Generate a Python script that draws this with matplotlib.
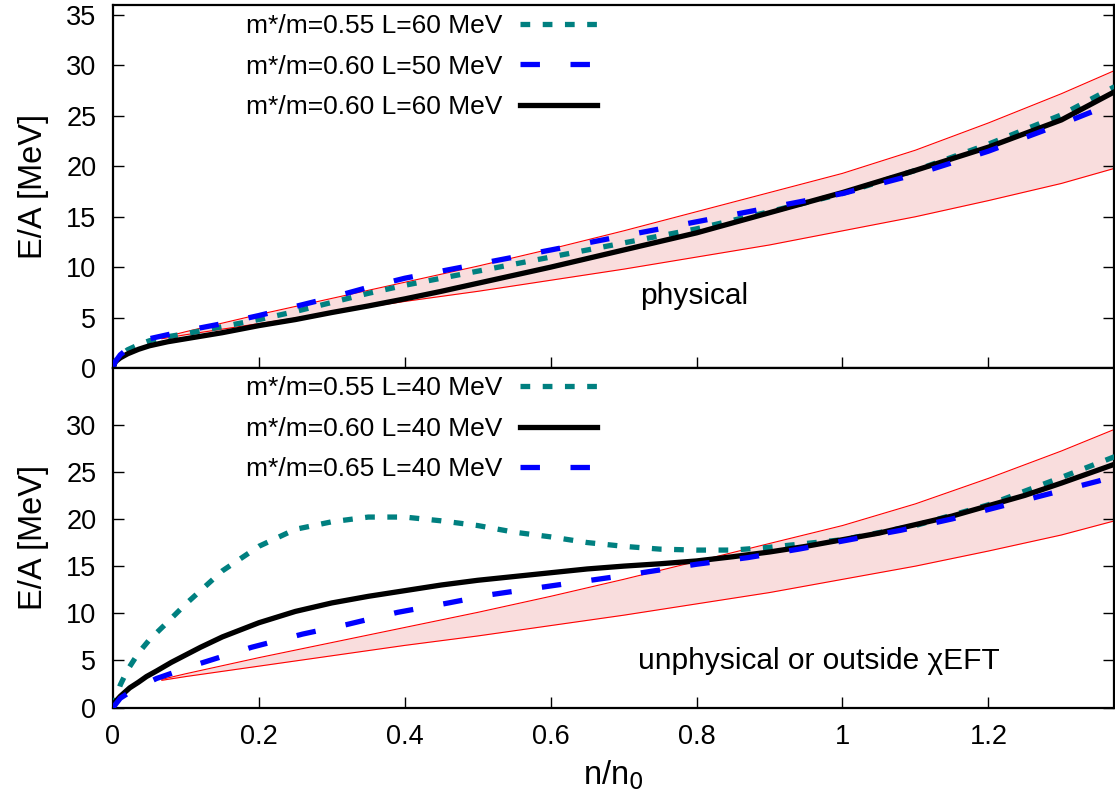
import matplotlib
matplotlib.use("Agg")
import matplotlib.pyplot as plt

plt.rcParams['font.family'] = ['Liberation Sans', 'DejaVu Sans']
plt.rcParams['lines.scale_dashes'] = False

# === DATA ===
# chiEFT band (same in both panels)
band_x = [0.067, 0.1, 0.2, 0.3, 0.4, 0.5, 0.6, 0.7, 0.8, 0.9, 1.0, 1.1, 1.2, 1.3, 1.373]
band_hi = [3.0, 3.6, 5.3, 6.9, 8.5, 10.1, 11.8, 13.6, 15.5, 17.4, 19.3, 21.6, 24.3, 27.2, 29.5]
band_lo = [2.9, 3.3, 4.4, 5.5, 6.6, 7.6, 8.7, 9.8, 11.0, 12.2, 13.6, 15.0, 16.6, 18.3, 19.8]

# top panel ("physical")
top_x = [0, 0.003, 0.01, 0.02, 0.035, 0.05, 0.075, 0.1, 0.15, 0.2, 0.25, 0.3, 0.35, 0.4, 0.45, 0.5,
         0.55, 0.6, 0.7, 0.8, 0.9, 1.0, 1.1, 1.2, 1.3, 1.373]
top_055_L60 = [0, 0.6, 1.2, 1.8, 2.3, 2.7, 3.1, 3.4, 4.1, 4.8, 5.6, 6.5, 7.4, 8.2, 8.9, 9.6,
               10.3, 11.0, 12.4, 13.8, 15.5, 17.3, 19.6, 22.2, 25.1, 27.9]
top_060_L50 = [0, 0.6, 1.3, 1.9, 2.5, 2.9, 3.3, 3.7, 4.4, 5.2, 6.1, 7.0, 8.0, 8.9, 9.6, 10.3,
               11.0, 11.7, 13.1, 14.5, 15.9, 17.3, 19.2, 21.5, 24.2, 26.3]
top_060_L60 = [0, 0.6, 1.0, 1.4, 1.85, 2.2, 2.6, 2.9, 3.5, 4.2, 4.8, 5.5, 6.15, 6.85, 7.6, 8.4,
               9.2, 10.0, 11.7, 13.4, 15.4, 17.4, 19.6, 21.9, 24.6, 27.4]

# bottom panel ("unphysical or outside chiEFT")
bot_x_055 = [0, 0.01, 0.02, 0.035, 0.05, 0.07, 0.1, 0.15, 0.2, 0.25, 0.3, 0.35, 0.4, 0.45, 0.5, 0.55,
             0.6, 0.65, 0.7, 0.75, 0.8, 0.85, 0.9, 0.95, 1.0, 1.1, 1.2, 1.3, 1.373]
bot_055_L40 = [0, 2.4, 4.0, 5.8, 7.2, 8.7, 11.0, 14.5, 17.1, 18.9, 19.7, 20.2, 20.2, 19.8, 19.3, 18.6,
               18.1, 17.5, 17.1, 16.8, 16.7, 16.7, 17.0, 17.4, 17.8, 19.3, 21.5, 24.4, 26.6]
bot_x_060 = [0, 0.003, 0.01, 0.023, 0.035, 0.046, 0.06, 0.08, 0.1, 0.12, 0.15, 0.2, 0.25, 0.3, 0.35,
             0.4, 0.45, 0.5, 0.55, 0.6, 0.65, 0.7, 0.75, 0.8, 0.85, 0.9, 0.95, 1.0, 1.05, 1.1, 1.15,
             1.2, 1.25, 1.3, 1.373]
bot_060_L40 = [0, 0.6, 1.2, 2.1, 2.7, 3.3, 3.9, 4.8, 5.6, 6.4, 7.5, 9.0, 10.2, 11.1, 11.8,
               12.4, 13.0, 13.5, 13.9, 14.3, 14.7, 15.0, 15.25, 15.55, 16.0, 16.5, 17.1, 17.8, 18.5, 19.4, 20.3,
               21.4, 22.5, 23.8, 25.8]
bot_x_065 = [0, 0.01, 0.03, 0.06, 0.09, 0.12, 0.19, 0.26, 0.32, 0.39, 0.46, 0.52, 0.6, 0.7, 0.8, 0.87,
             0.94, 1.01, 1.08, 1.15, 1.21, 1.28, 1.35, 1.373]
bot_065_L40 = [0, 1.0, 2.0, 3.1, 3.9, 4.7, 6.4, 7.8, 8.8, 10.1, 11.1, 12.0, 12.9, 14.0, 15.2, 15.9,
               16.8, 17.8, 18.8, 20.0, 21.2, 22.6, 24.0, 24.5]

TEAL = '#008080'
BLUE = '#0000ff'
teal_dash = (7, 9)
blue_dash = (14, 22)
LW = 3.8

fig = plt.figure(figsize=(11.15, 8.05), dpi=100)
ax1 = fig.add_axes([0.1013, 0.5429, 0.8977, 0.4509])
ax2 = fig.add_axes([0.1013, 0.1209, 0.8977, 0.4220])


def draw_band(ax):
    ax.fill_between(band_x, band_lo, band_hi, color='#f9dddd', lw=0, zorder=1)
    ax.plot(band_x, band_hi, color='red', lw=0.8, zorder=2)
    ax.plot(band_x, band_lo, color='red', lw=0.8, zorder=2)


def style(ax, yticks):
    ax.set_xlim(0, 1.372)
    ax.set_ylim(0, 36)
    ax.set_xticks([0, 0.2, 0.4, 0.6, 0.8, 1.0, 1.2])
    ax.set_xticklabels(['0', '0.2', '0.4', '0.6', '0.8', '1', '1.2'])
    ax.set_yticks(yticks)
    ax.tick_params(direction='in', length=8, width=1, labelsize=19.5, pad=12,
                   right=True, top=False)
    for s in ax.spines.values():
        s.set_linewidth(1.6)
    ax.set_ylabel('E/A [MeV]', fontsize=23.5, labelpad=12)


leg_kw = dict(loc='upper left', borderaxespad=0, frameon=False, markerfirst=False,
              fontsize=19, handlelength=2.95, handletextpad=0.65, labelspacing=0.63,
              borderpad=0)

# --- top panel ---
draw_band(ax1)
t1, = ax1.plot(top_x, top_055_L60, color=TEAL, lw=LW, dashes=teal_dash, zorder=3)
t3, = ax1.plot(top_x, top_060_L60, color='black', lw=LW, zorder=4)
t2, = ax1.plot(top_x, top_060_L50, color=BLUE, lw=LW, dashes=blue_dash, zorder=5)
ax1.legend([t1, t2, t3], ['m*/m=0.55 L=60 MeV', 'm*/m=0.60 L=50 MeV', 'm*/m=0.60 L=60 MeV'],
           bbox_to_anchor=(0.133, 0.975), **leg_kw)
ax1.text(0.797, 7.1, 'physical', fontsize=21.5, ha='center', va='center')
style(ax1, [0, 5, 10, 15, 20, 25, 30, 35])
ax1.tick_params(labelbottom=False)

# --- bottom panel ---
draw_band(ax2)
l1, = ax2.plot(bot_x_055, bot_055_L40, color=TEAL, lw=LW, dashes=teal_dash, zorder=3)
l2, = ax2.plot(bot_x_060, bot_060_L40, color='black', lw=LW, zorder=4)
l3, = ax2.plot(bot_x_065, bot_065_L40, color=BLUE, lw=LW, dashes=blue_dash, zorder=5)
ax2.legend([l1, l2, l3], ['m*/m=0.55 L=40 MeV', 'm*/m=0.60 L=40 MeV', 'm*/m=0.65 L=40 MeV'],
           bbox_to_anchor=(0.133, 0.976), **leg_kw)
ax2.text(0.968, 4.9, 'unphysical or outside χEFT', fontsize=21.5, ha='center', va='center')
style(ax2, [0, 5, 10, 15, 20, 25, 30])
ax2.set_xlabel('n/n$_0$', fontsize=23.5, labelpad=6)

fig.savefig('out.png', dpi=100)
